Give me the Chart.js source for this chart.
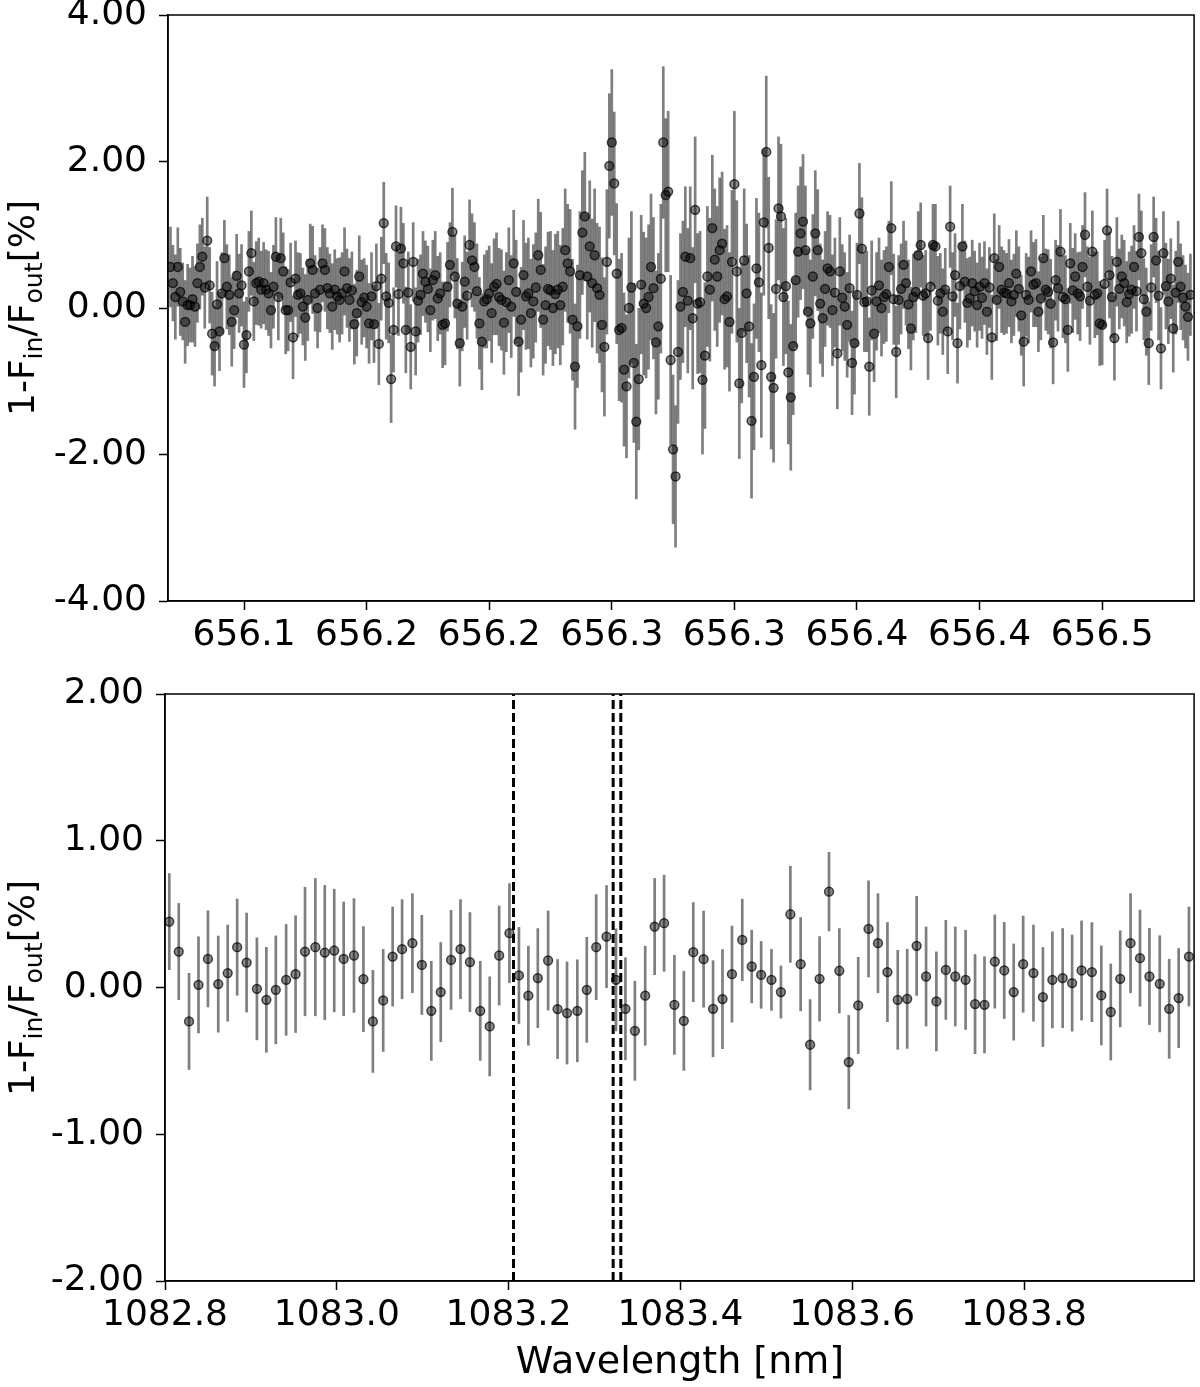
<!DOCTYPE html>
<html>
<head>
<meta charset="utf-8">
<script src="https://cdn.jsdelivr.net/npm/chart.js@4.4.0/dist/chart.umd.min.js"></script>
<style>
  body { margin: 0; background: #fff; }
  #wrap { position: relative; width: 1200px; height: 1387px; font-family: "DejaVu Sans", sans-serif; color: #000; }
  canvas { position: absolute; left: 0; }
  #topChart { top: 0; }
  #bottomChart { top: 660px; }
  .ylab { position: absolute; font-size: 36px; line-height: 1; white-space: nowrap; transform: translate(-50%, -50%) rotate(-90deg); }
  .ylab sub { font-size: 70%; vertical-align: -0.3em; line-height: 0; }
  #xlab { position: absolute; left: 680px; top: 1360px; font-size: 38px; line-height: 1; white-space: nowrap; transform: translate(-50%, -50%); }
</style>
</head>
<body>
<div id="wrap">
  <canvas id="topChart" width="1200" height="660"></canvas>
  <canvas id="bottomChart" width="1200" height="727"></canvas>
  <div class="ylab" style="left:22px; top:308px">1-F<sub>in</sub>/F<sub>out</sub>[%]</div>
  <div class="ylab" style="left:22px; top:988px">1-F<sub>in</sub>/F<sub>out</sub>[%]</div>
  <div id="xlab">Wavelength [nm]</div>
</div>
<script>
// H-alpha panel
const topWave = [
  656.070,656.071,656.072,656.073,656.074,656.075,656.076,656.077,656.078,656.079,
  656.080,656.081,656.082,656.083,656.084,656.085,656.086,656.087,656.088,656.089,
  656.090,656.091,656.092,656.093,656.094,656.095,656.096,656.097,656.098,656.099,
  656.100,656.101,656.102,656.103,656.104,656.105,656.106,656.107,656.108,656.109,
  656.110,656.111,656.112,656.113,656.114,656.115,656.116,656.117,656.118,656.119,
  656.120,656.121,656.122,656.123,656.124,656.125,656.126,656.127,656.128,656.129,
  656.130,656.131,656.132,656.133,656.134,656.135,656.136,656.137,656.138,656.139,
  656.140,656.141,656.142,656.143,656.144,656.145,656.146,656.147,656.148,656.149,
  656.150,656.151,656.152,656.153,656.154,656.155,656.156,656.157,656.158,656.159,
  656.160,656.161,656.162,656.163,656.164,656.165,656.166,656.167,656.168,656.169,
  656.170,656.171,656.172,656.173,656.174,656.175,656.176,656.177,656.178,656.179,
  656.180,656.181,656.182,656.183,656.184,656.185,656.186,656.187,656.188,656.189,
  656.190,656.191,656.192,656.193,656.194,656.195,656.196,656.197,656.198,656.199,
  656.200,656.201,656.202,656.203,656.204,656.205,656.206,656.207,656.208,656.209,
  656.210,656.211,656.212,656.213,656.214,656.215,656.216,656.217,656.218,656.219,
  656.220,656.221,656.222,656.223,656.224,656.225,656.226,656.227,656.228,656.229,
  656.230,656.231,656.232,656.233,656.234,656.235,656.236,656.237,656.238,656.239,
  656.240,656.241,656.242,656.243,656.244,656.245,656.246,656.247,656.248,656.249,
  656.250,656.251,656.252,656.253,656.254,656.255,656.256,656.257,656.258,656.259,
  656.260,656.261,656.262,656.263,656.264,656.265,656.266,656.267,656.268,656.269,
  656.270,656.271,656.272,656.273,656.274,656.275,656.276,656.277,656.278,656.279,
  656.280,656.281,656.282,656.283,656.284,656.285,656.286,656.287,656.288,656.289,
  656.290,656.291,656.292,656.293,656.294,656.295,656.296,656.297,656.298,656.299,
  656.300,656.301,656.302,656.303,656.304,656.305,656.306,656.307,656.308,656.309,
  656.310,656.311,656.312,656.313,656.314,656.315,656.316,656.317,656.318,656.319,
  656.320,656.321,656.322,656.323,656.324,656.325,656.326,656.327,656.328,656.329,
  656.330,656.331,656.332,656.333,656.334,656.335,656.336,656.337,656.338,656.339,
  656.340,656.341,656.342,656.343,656.344,656.345,656.346,656.347,656.348,656.349,
  656.350,656.351,656.352,656.353,656.354,656.355,656.356,656.357,656.358,656.359,
  656.360,656.361,656.362,656.363,656.364,656.365,656.366,656.367,656.368,656.369,
  656.370,656.371,656.372,656.373,656.374,656.375,656.376,656.377,656.378,656.379,
  656.380,656.381,656.382,656.383,656.384,656.385,656.386,656.387,656.388,656.389,
  656.390,656.391,656.392,656.393,656.394,656.395,656.396,656.397,656.398,656.399,
  656.400,656.401,656.402,656.403,656.404,656.405,656.406,656.407,656.408,656.409,
  656.410,656.411,656.412,656.413,656.414,656.415,656.416,656.417,656.418,656.419,
  656.420,656.421,656.422,656.423,656.424,656.425,656.426,656.427,656.428,656.429,
  656.430,656.431,656.432,656.433,656.434,656.435,656.436,656.437,656.438,656.439,
  656.440,656.441,656.442,656.443,656.444,656.445,656.446,656.447,656.448,656.449,
  656.450,656.451,656.452,656.453,656.454,656.455,656.456,656.457,656.458,656.459,
  656.460,656.461,656.462,656.463,656.464,656.465,656.466,656.467,656.468,656.469,
  656.470,656.471,656.472,656.473,656.474,656.475,656.476,656.477,656.478,656.479,
  656.480,656.481,656.482,656.483,656.484,656.485,656.486
];

const topFlux = [
  0.56,0.34,0.15,0.56,0.22, 0.09,-0.19,0.04,0.04,0.12, 0.02,0.34,0.56,0.70,0.28, 0.92,0.31,-0.35,-0.52,0.05,
  -0.32,0.20,0.68,0.29,0.18, -0.19,-0.03,0.44,0.20,0.31, -0.50,-0.37,0.50,0.75,0.09, 0.34,0.36,0.25,0.34,0.25,
  0.20,-0.03,0.29,0.70,0.15, 0.68,0.50,-0.03,-0.03,0.35, -0.40,0.40,0.18,0.20,0.02, -0.13,0.11,0.61,0.52,0.20,
  0.00,0.25,0.61,0.52,0.27, 0.20,0.02,0.25,0.16,0.11, 0.20,0.50,0.27,0.11,0.24, -0.22,-0.07,0.43,0.08,0.14,
  0.02,-0.21,0.16,-0.22,0.30, -0.49,0.40,1.16,0.16,0.07, -0.97,-0.30,0.84,0.19,

  0.81,0.61,-0.30,0.21, -0.53,0.63,-0.32,0.10, 0.18,0.47,0.36,0.26, -0.03,0.38,0.45,0.13,
  0.20,-0.23,-0.21,0.29, 0.59,1.04,0.43,0.06, -0.48,0.02,0.36,0.17, 0.86,0.65,0.56,0.23,
  -0.21,-0.46,0.09,0.12, 0.20,-0.07,0.29,0.33, 0.15,0.11,-0.20,0.08, 0.38,0.02,0.61,0.22,
  -0.46,-0.16,0.45,0.16, 0.20,-0.07,0.09,0.28, 0.72,0.52,-0.16,0.04, 0.26,0.24,0.00,0.19, 0.25,

  0.04,0.29,0.79,0.61,0.50,-0.16,-0.80,-0.25,0.45,1.03,1.25,0.43,0.84,0.34,0.72,0.27,0.18,-0.23,-0.53,0.63,
  1.94,2.26,1.70,0.47,-0.30,-0.27,-0.84,-1.07,0.00,0.28,-0.75,-1.55,-0.97,0.32,0.06,0.00,0.15,0.56,0.27,-0.47,
  -0.25,0.40,2.26,1.54,1.59,-0.71,-1.93,-2.30,-0.60,0.02,0.22,0.70,0.10,0.68,-0.14,1.34,0.06,

  0.08,-0.98,-0.65,0.43,0.25,1.09,0.66,0.43,0.79,0.88,0.12,0.16,-0.19,0.63,1.69,0.50,-1.03,-0.34,0.65,0.20,
  -0.25,-1.54,-0.94,0.54,0.35,-0.78,1.17,2.13,0.82,-0.94,-1.09,0.26,1.36,1.25,0.15,0.30,-0.88,-1.22,-0.52,0.38,
  0.77,1.02,1.18,0.79,-0.05,-0.21,0.43,1.02,0.79,0.06,-0.14,0.26,0.54,

  0.50,-0.03,0.21, -0.62,0.50,0.14, 0.02,-0.23,0.27, -0.75,-0.48,0.18, 1.29,0.81,0.08, 0.09,-0.80,0.24,
  -0.35,0.09,0.31, 0.00,0.15,0.19, 0.56,1.09,0.12, -0.60,0.11,0.26, 0.59,0.34,0.05, -0.28,0.15,0.22,
  0.72,0.86,0.17, 0.20,-0.41,0.29, 0.86,0.84,0.10, 0.20,-0.05,0.25, -0.32,1.11,0.16, 0.45,-0.48,0.30,
  0.84,0.36,0.07, 0.13,0.34,0.23, 0.04,0.29,0.14, 0.34,-0.05,0.28, -0.40,0.68,0.11, 0.56,0.25,0.21,
  0.20,0.34,0.09, 0.18,0.47,0.26, -0.10,-0.46,0.18, 0.11,0.50,0.32, 0.34,-0.05,0.13, 0.68,0.25,0.22,0.06,
  -0.47,0.38,0.27, 0.77,0.15,0.12, -0.30,0.61,0.24, 0.43,0.20,0.16, 0.56,1.00,0.29,0.10,
  0.77,0.18,0.20, -0.21,-0.23,0.33, 1.06,0.45,0.15, -0.41,0.63,0.26, 0.43,0.34,0.08,0.19,
  0.25,0.56,0.23, 0.97,0.75,0.12, -0.05,-0.48,0.28, 0.97,0.65,0.17, -0.55,0.75,0.30,0.09,
  0.40,-0.28,0.21, 0.63,0.29,0.14, 0.02,-0.12,0.18
];

const topErr = [
  0.55,0.52,0.58,0.54,0.60,0.53,0.57,0.56,0.51,0.59, 0.55,0.54,0.58,0.53,0.56,0.60,0.52,0.57,0.55,0.59,
  0.54,0.56,0.52,0.58,0.55,0.61,0.53,0.57,0.54,0.56, 0.59,0.52,0.55,0.58,0.54,0.57,0.60,0.53,0.56,0.55,
  0.58,0.52,0.57,0.54,0.59,0.55,0.53,0.60,0.56,0.54, 0.57,0.52,0.58,0.55,0.53,0.59,0.56,0.54,0.60,0.52,
  0.55,0.58,0.53,0.57,0.56,0.54,0.59,0.55,0.52,0.58, 0.56,0.60,0.54,0.57,0.53,0.55,0.59,0.56,0.58,0.54,
  0.57,0.55,0.60,0.53,0.58,0.56,0.57,0.56,0.59,0.55, 0.60,0.58,0.56,0.57,

  0.57,0.55,0.59,0.56,0.58,0.54,0.60,0.57,0.55,0.58, 0.56,0.59,0.57,0.55,0.60,0.58,0.56,0.59,0.57,0.61,
  0.58,0.60,0.57,0.62,0.59,0.61,0.63,0.60,0.62,0.64, 0.61,0.65,0.63,0.66,0.64,0.67,0.65,0.68,0.66,0.70,
  0.67,0.69,0.71,0.68,0.72,0.70,0.73,0.71,0.74,0.72, 0.75,0.73,0.76,0.74,0.78,0.75,0.77,0.79,0.76,0.80,
  0.78,0.81,0.79,0.82,0.80,

  0.82,0.80,0.84,0.81,0.85,0.83,0.86,0.84,0.87,0.85, 0.88,0.86,0.90,0.88,0.91,0.89,0.93,0.92,0.95,0.99,
  0.99,1.00,0.98,0.96,0.97,1.02,1.05,0.98,0.96,1.04, 1.09,1.06,0.97,0.95,0.98,0.96,0.99,1.00,0.97,0.98,
  1.00,1.02,1.04,1.05,1.10,1.16,1.02,0.97,0.98,1.00, 0.97,0.96,0.99,0.98,0.97,1.00,0.96,

  0.97,1.02,1.00,0.96,0.98,1.00,0.97,0.96,0.99,0.98, 0.96,0.97,0.95,0.98,1.00,0.97,1.03,0.96,0.98,0.95,
  0.97,1.06,1.00,0.96,0.95,0.99,1.00,1.04,0.97,0.99, 1.02,0.95,0.98,0.99,0.94,0.93,0.98,1.00,0.94,0.92,
  0.90,0.91,0.92,0.88,0.86,0.87,0.85,0.86,0.83,0.82, 0.80,0.79,0.78,

  0.77,0.76,0.75,0.76,0.74,0.73,0.74,0.72,0.73,0.71, 0.70,0.71,0.69,0.70,0.68,0.69,0.67,0.68,0.66,0.67,
  0.65,0.66,0.64,0.65,0.63,0.64,0.62,0.63,0.61,0.62,
  0.60,0.58,0.61,0.57,0.59,0.56,0.60,0.58,0.55,0.59, 0.57,0.60,0.56,0.58,0.61,0.55,0.59,0.57,0.58,0.56,
  0.60,0.57,0.55,0.59,0.58,0.56,0.61,0.57,0.59,0.55, 0.58,0.60,0.56,0.57,0.59,0.55,0.58,0.61,0.56,0.57,
  0.59,0.58,0.55,0.60,0.57,0.56,0.59,0.58,0.55,0.61, 0.57,0.59,0.56,0.58,0.60,0.55,0.57,0.59,0.56,0.58,
  0.61,0.57,0.55,0.59,0.58,0.56,0.60,0.57,0.55,0.58, 0.59,0.56,0.61,0.57,0.58,0.55,0.60,0.56,0.59,0.57,
  0.58,0.55,0.60,0.57,0.59,0.56,0.58,0.61,0.55,0.57, 0.59,0.56,0.58,0.60,0.57,0.55,0.59,0.58,0.56,0.60,
  0.57,0.59,0.55,0.58,0.61,0.56,0.57,0.59,0.58,0.55, 0.60,0.57,0.56,0.59,0.58,0.57,0.60,0.56
];

const topXTicks = [656.10, 656.15, 656.20, 656.25, 656.30, 656.35, 656.40, 656.45];
const topXLabels = ['656.1', '656.2', '656.2', '656.3', '656.3', '656.4', '656.4', '656.5'];
const topYTicks = [-4, -2, 0, 2, 4];

// He triplet panel
const botWave = [
  1082.805,1082.816,1082.828,1082.839,1082.850,1082.862,1082.873,1082.884,1082.895,1082.907,
  1082.918,1082.929,1082.941,1082.952,1082.963,1082.975,1082.986,1082.997,1083.008,1083.020,
  1083.031,1083.042,1083.054,1083.065,1083.076,1083.088,1083.099,1083.110,1083.121,1083.133,
  1083.144,1083.155,1083.167,1083.178,1083.189,1083.201,1083.212,1083.223,1083.234,1083.246,
  1083.257,1083.268,1083.280,1083.291,1083.302,1083.314,1083.325,1083.336,1083.347,1083.359,
  1083.370,1083.381,1083.393,1083.404,1083.415,1083.427,1083.438,1083.449,1083.460,1083.472,
  1083.483,1083.494,1083.506,1083.517,1083.528,1083.540,1083.551,1083.562,1083.573,1083.585,
  1083.596,1083.607,1083.619,1083.630,1083.641,1083.653,1083.664,1083.675,1083.686,1083.698,
  1083.709,1083.720,1083.732,1083.743,1083.754,1083.766,1083.777,1083.788,1083.799,1083.811,
  1083.822,1083.833,1083.845,1083.856,1083.867,1083.879,1083.890,1083.901,1083.912,1083.924,
  1083.935,1083.946,1083.958,1083.969,1083.980,1083.992
];

const botFlux = [
  0.449,0.245,-0.231,0.018,0.195,0.023,0.098,0.275,0.170,-0.009,
  -0.084,-0.016,0.052,0.091,0.245,0.275,0.238,0.252,0.195,0.218,
  0.057,-0.231,-0.088,0.211,
  0.261,0.302,0.154,-0.159,-0.031,0.188,0.261,0.173,-0.159,-0.265,
  0.218,0.370,0.082,-0.056,0.064,0.184,-0.147,-0.174,-0.159,-0.016,
  0.275,0.347,0.052,-0.145,-0.295,-0.056,0.415,0.438,-0.118,-0.227,
  0.241,0.193,-0.145,-0.079,0.091,0.324,0.143,0.086,0.052,-0.031,0.499,
  0.159,-0.390,0.059,0.653,0.114,-0.508,-0.122,0.399,0.302,0.105,
  -0.084,-0.077,0.284,0.075,-0.095,0.120,0.075,0.052,-0.113,-0.118,
  0.177,0.116,-0.031,0.159,0.098,-0.065,0.052,0.064,0.030,0.116,
  0.105,-0.054,-0.167,0.059,0.302,0.200,0.075,0.025,-0.145,-0.072,0.211
];

const botErr = [
  0.33,0.33,0.33,0.33,0.33,0.33,0.33,0.33,0.34,0.35,
  0.36,0.37,0.38,0.40,0.44,0.47,0.46,0.42,0.39,0.39,
  0.36,0.35,0.35,0.34,
  0.34,0.34,0.34,0.34,0.34,0.34,0.34,0.34,0.34,0.34,
  0.34,0.34,0.33,0.34,0.34,0.34,0.34,0.35,0.35,0.36,
  0.36,0.35,0.35,0.35,0.34,0.34,0.33,0.33,0.34,0.34,
  0.34,0.33,0.33,0.34,0.33,0.28,0.25,0.23,0.21,0.18,0.33,
  0.32,0.31,0.29,0.27,0.29,0.32,0.33,0.33,0.34,0.34,
  0.34,0.34,0.34,0.34,0.34,0.34,0.34,0.34,0.34,0.33,
  0.32,0.33,0.33,0.33,0.33,0.34,0.33,0.34,0.33,0.34,
  0.34,0.34,0.33,0.33,0.34,0.33,0.33,0.33,0.34,0.34,0.34
];

const heLines = [1083.2057, 1083.3217, 1083.3306];
const botXTicks = [1082.8, 1083.0, 1083.2, 1083.4, 1083.6, 1083.8];
const botXLabels = ['1082.8', '1083.0', '1083.2', '1083.4', '1083.6', '1083.8'];
const botYTicks = [-2, -1, 0, 1, 2];

const FONT = {family: 'DejaVu Sans', size: 36};

// box round the plot area
const frame = {
    id: 'frame',
    afterDraw(chart) {
        const {ctx, chartArea: a} = chart;
        ctx.save();
        ctx.strokeStyle = '#000';
        ctx.lineWidth = 1.5;
        ctx.strokeRect(a.left, a.top, a.right - a.left, a.bottom - a.top);
        ctx.restore();
    }
};

// vertical error bars, one stroke each so overlaps get darker
const errorBars = {
    id: 'errorBars',
    beforeDatasetsDraw(chart, args, opts) {
        const {ctx, chartArea: a, scales} = chart;
        const pts = chart.data.datasets[0].data;
        ctx.save();
        ctx.beginPath();
        ctx.rect(a.left, a.top, a.right - a.left, a.bottom - a.top);
        ctx.clip();
        ctx.strokeStyle = 'rgba(0,0,0,0.5)';
        ctx.lineWidth = 2.7;
        for (let i = 0; i < pts.length; i++) {
            const px = scales.x.getPixelForValue(pts[i].x);
            ctx.beginPath();
            ctx.moveTo(px, scales.y.getPixelForValue(pts[i].y - opts.err[i]));
            ctx.lineTo(px, scales.y.getPixelForValue(pts[i].y + opts.err[i]));
            ctx.stroke();
        }
        ctx.restore();
    }
};

function xAxis(min, max, ticks, labels, height) {
    return {
        type: 'linear', min: min, max: max,
        afterBuildTicks: (s) => { s.ticks = ticks.map(v => ({value: v})); },
        ticks: { callback: (v, i) => labels[i], font: FONT, color: '#000', padding: 4, maxRotation: 0, autoSkip: false },
        grid: { drawOnChartArea: false, tickLength: 9, tickWidth: 1.5, tickColor: '#000' },
        border: { display: true, color: '#000', width: 1.5 },
        afterFit: (s) => { s.height = height; s.paddingLeft = 0; s.paddingRight = 0; }
    };
}

function yAxis(min, max, ticks, width) {
    return {
        min: min, max: max,
        afterBuildTicks: (s) => { s.ticks = ticks.map(v => ({value: v})); },
        ticks: { callback: (v) => v.toFixed(2), font: FONT, color: '#000', padding: 12 },
        grid: { drawOnChartArea: false, tickLength: 9, tickWidth: 1.5, tickColor: '#000' },
        border: { display: true, color: '#000', width: 1.5 },
        afterFit: (s) => { s.width = width; s.paddingTop = 0; s.paddingBottom = 0; }
    };
}

function pointSet(xs, ys) {
    return {
        data: xs.map((x, i) => ({x: x, y: ys[i]})),
        pointRadius: 4.4,
        pointBorderWidth: 1.5,
        pointBackgroundColor: 'rgba(0,0,0,0.45)',
        pointBorderColor: 'rgba(0,0,0,0.7)'
    };
}

const common = {
    responsive: false,
    devicePixelRatio: 1,
    animation: false,
    events: []
};

new Chart(document.getElementById('topChart'), {
    type: 'scatter',
    data: { datasets: [pointSet(topWave, topFlux)] },
    options: Object.assign({}, common, {
        layout: { padding: {top: 15, right: 5, left: 0, bottom: 0} },
        scales: {
            x: xAxis(656.069, 656.4875, topXTicks, topXLabels, 59),
            y: yAxis(-4, 4, topYTicks, 168)
        },
        plugins: { legend: {display: false}, tooltip: {enabled: false}, errorBars: {err: topErr} }
    }),
    plugins: [errorBars, frame]
});

const botSets = [pointSet(botWave, botFlux)];
for (let i = 0; i < heLines.length; i++) {
    botSets.push({
        type: 'line',
        data: [{x: heLines[i], y: botYTicks[0]}, {x: heLines[i], y: botYTicks[botYTicks.length - 1]}],
        borderColor: '#000',
        borderWidth: 3,
        borderDash: [9, 4],
        pointRadius: 0,
        showLine: true
    });
}

new Chart(document.getElementById('bottomChart'), {
    type: 'scatter',
    data: { datasets: botSets },
    options: Object.assign({}, common, {
        layout: { padding: {top: 34, right: 5, left: 0, bottom: 0} },
        scales: {
            x: xAxis(1082.8, 1083.998, botXTicks, botXLabels, 106),
            y: yAxis(-2, 2, botYTicks, 165)
        },
        plugins: { legend: {display: false}, tooltip: {enabled: false}, errorBars: {err: botErr} }
    }),
    plugins: [errorBars, frame]
});
</script>
</body>
</html>
